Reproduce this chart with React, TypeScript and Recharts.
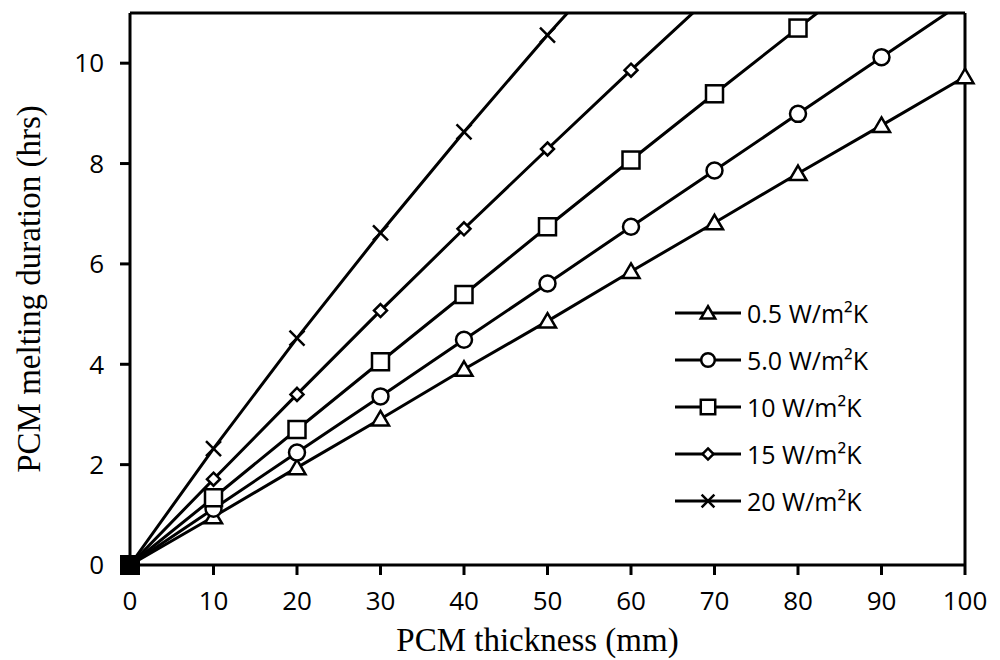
import { Line, LineChart, ReferenceDot, ReferenceLine, XAxis, YAxis } from "recharts";

const thickness = [0, 10, 20, 30, 40, 50, 60, 70, 80, 90, 100];
const h05 = [0, 0.96, 1.94, 2.91, 3.9, 4.86, 5.85, 6.82, 7.8, 8.76, 9.73];
const h5 = [0, 1.12, 2.24, 3.36, 4.49, 5.61, 6.74, 7.86, 8.99, 10.12, 11.24];
const h10 = [0, 1.34, 2.7, 4.05, 5.39, 6.74, 8.07, 9.39, 10.7, 12.0, 13.3];
const h15 = [0, 1.71, 3.4, 5.07, 6.7, 8.29, 9.86, 11.4, 12.9, 14.4, 15.9];
const h20 = [0, 2.32, 4.52, 6.62, 8.63, 10.56, 12.4, 14.2, 15.9, 17.6, 19.2];
const xTicks = [0, 10, 20, 30, 40, 50, 60, 70, 80, 90, 100];
const yTicks = [0, 2, 4, 6, 8, 10];

const series = [
  { key: "h05", name: "0.5 W/m²K", marker: "triangle" },
  { key: "h5", name: "5.0 W/m²K", marker: "circle" },
  { key: "h10", name: "10 W/m²K", marker: "square" },
  { key: "h15", name: "15 W/m²K", marker: "diamond" },
  { key: "h20", name: "20 W/m²K", marker: "cross" },
];

const data = thickness.map((t, i) => ({
  t,
  h05: h05[i],
  h5: h5[i],
  h10: h10[i],
  h15: h15[i],
  h20: h20[i],
}));

const tickFont = "'Open Sans', sans-serif";
const titleFont = "'Liberation Serif', serif";

const Marker = ({ type, cx, cy, s = 1 }: { type: string; cx: number; cy: number; s?: number }) => {
  const common = { fill: "#fff", stroke: "#000", strokeWidth: 2.5 };
  if (type === "triangle")
    return <polygon points={`${cx},${cy - 8 * s} ${cx + 8.5 * s},${cy + 6.5 * s} ${cx - 8.5 * s},${cy + 6.5 * s}`} {...common} />;
  if (type === "circle") return <circle cx={cx} cy={cy} r={8 * s} {...common} />;
  if (type === "square") return <rect x={cx - 8.5 * s} y={cy - 8.5 * s} width={17 * s} height={17 * s} {...common} />;
  if (type === "diamond")
    return <polygon points={`${cx},${cy - 6.5 * s} ${cx + 6.5 * s},${cy} ${cx},${cy + 6.5 * s} ${cx - 6.5 * s},${cy}`} {...common} />;
  return (
    <g stroke="#000" strokeWidth={2.5}>
      <line x1={cx - 7.5 * s} y1={cy - 7.5 * s} x2={cx + 7.5 * s} y2={cy + 7.5 * s} />
      <line x1={cx - 7.5 * s} y1={cy + 7.5 * s} x2={cx + 7.5 * s} y2={cy - 7.5 * s} />
    </g>
  );
};

const makeDot = (type: string) => (props: any) => {
  const { cx, cy, index } = props;
  if (cx == null || cy == null || index === 0) return <g key={index} />;
  return <Marker key={index} type={type} cx={cx} cy={cy} />;
};

const OriginSquare = (props: any) => (
  <rect x={props.cx - 10} y={props.cy - 10} width={20} height={20} fill="#000" />
);

const LegendBox = () => (
  <div style={{ position: "absolute", left: 673, top: 290, fontFamily: tickFont, fontSize: 25, color: "#000" }}>
    {series.map((s) => (
      <div key={s.key} style={{ display: "flex", alignItems: "center", height: 46.8 }}>
        <svg width={72} height={24}>
          <line x1={2} y1={12} x2={68} y2={12} stroke="#000" strokeWidth={3} />
          <Marker type={s.marker} cx={35} cy={12} s={0.85} />
        </svg>
        <span style={{ marginLeft: 2, whiteSpace: "nowrap" }}>{s.name}</span>
      </div>
    ))}
  </div>
);

export default function App() {
  return (
    <div style={{ position: "relative", width: 1000, height: 660 }}>
      <style>{`body{margin:0}`}</style>
      <LineChart width={1000} height={660} data={data} margin={{ top: 13, right: 35, bottom: 35, left: 60 }}>
        <XAxis
          dataKey="t"
          type="number"
          domain={[0, 100]}
          ticks={xTicks}
          interval={0}
          height={60}
          tickSize={10}
          tickMargin={17}
          stroke="#000"
          strokeWidth={3}
          fontSize={26}
          fontFamily={tickFont}
          tick={{ fill: "#000", fontSize: 26, fontFamily: tickFont }}
          label={{ value: "PCM thickness (mm)", position: "insideBottom", offset: -26, dx: -10, fill: "#000", fontSize: 33, fontFamily: titleFont }}
        />
        <YAxis
          type="number"
          domain={[0, 11]}
          allowDataOverflow
          ticks={yTicks}
          interval={0}
          width={70}
          tickSize={10}
          tickMargin={16}
          stroke="#000"
          strokeWidth={3}
          fontSize={26}
          fontFamily={tickFont}
          tick={{ fill: "#000", fontSize: 26, fontFamily: tickFont }}
          label={{ value: "PCM melting duration (hrs)", angle: -90, position: "insideLeft", offset: -32, fill: "#000", fontSize: 33, fontFamily: titleFont, style: { textAnchor: "middle" } }}
        />
        <ReferenceLine y={11} stroke="#000" strokeWidth={3} />
        <ReferenceLine x={100} stroke="#000" strokeWidth={3} />
        {series.map((s) => (
          <Line
            key={s.key}
            dataKey={s.key}
            name={s.name}
            type="linear"
            stroke="#000"
            strokeWidth={3}
            dot={makeDot(s.marker)}
            isAnimationActive={false}
          />
        ))}
        <ReferenceDot x={0} y={0} ifOverflow="visible" shape={OriginSquare} />
      </LineChart>
      <LegendBox />
    </div>
  );
}
